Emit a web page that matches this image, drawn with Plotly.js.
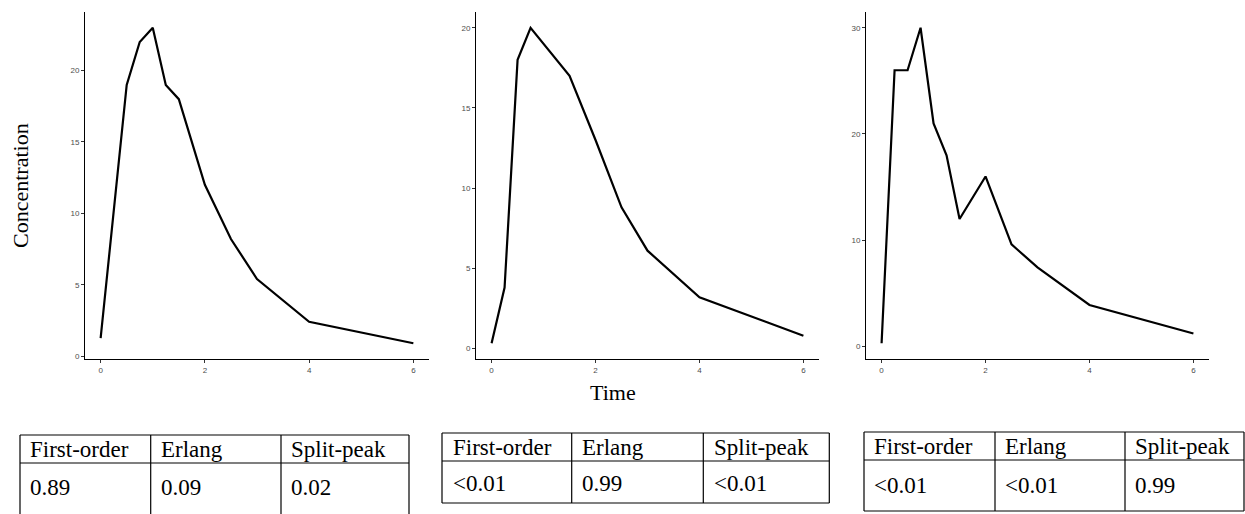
<!DOCTYPE html>
<html>
<head>
<meta charset="utf-8">
<script src="https://cdn.plot.ly/plotly-3.0.1.min.js"></script>
<style>html,body{margin:0;padding:0;background:#fff;}#chart{width:1245px;height:514px;}</style>
</head>
<body>
<div id="chart"></div>
<script>
// ---- data ----
var time1 = [0, 0.5, 0.75, 1, 1.25, 1.5, 2, 2.5, 3, 4, 6];
var conc1 = [1.25, 19, 22, 23, 19, 18, 12, 8.2, 5.4, 2.4, 0.9];
var time2 = [0, 0.25, 0.5, 0.75, 1.5, 2, 2.5, 3, 4, 6];
var conc2 = [0.33, 3.8, 18, 20, 17, 13, 8.8, 6.1, 3.2, 0.8];
var time3 = [0, 0.25, 0.5, 0.75, 1, 1.25, 1.5, 2, 2.5, 3, 4, 6];
var conc3 = [0.3, 26, 26, 30, 21, 18, 12, 16, 9.6, 7.45, 3.9, 1.22];
var yDtick = [5, 5, 10];
var tableHeaders = ["First-order", "Erlang", "Split-peak"];
var tableValues1 = ["0.89", "0.09", "0.02"];
var tableValues2 = ["<0.01", "0.99", "<0.01"];
var tableValues3 = ["<0.01", "<0.01", "0.99"];
var xTitle = "Time";
var yTitle = "Concentration";

// ---- layout helpers ----
var W = 1245, H = 514;
function px(x) { return x / W; }
function py(y) { return 1 - y / H; }

var series = [[time1, conc1], [time2, conc2], [time3, conc3]];
var xDomains = [[85, 429], [476, 819], [866, 1209]];
var plotTop = 12, plotBottom = 359;

var traces = [];
var layout = {
  width: W, height: H,
  margin: {l: 0, r: 0, t: 0, b: 0},
  paper_bgcolor: "#fff", plot_bgcolor: "#fff",
  showlegend: false,
  shapes: [], annotations: []
};

series.forEach(function (s, i) {
  var n = i === 0 ? "" : String(i + 1);
  traces.push({
    x: s[0], y: s[1], type: "scatter", mode: "lines",
    xaxis: "x" + n, yaxis: "y" + n,
    line: {color: "#000", width: 2.2},
    hoverinfo: "skip"
  });
  var ymin = Math.min.apply(null, s[1]), ymax = Math.max.apply(null, s[1]);
  var span = ymax - ymin;
  var common = {
    showgrid: false, zeroline: false, showline: true,
    linecolor: "#000", linewidth: 1,
    ticks: "outside", ticklen: 3, tickwidth: 1, tickcolor: "#333",
    tickfont: {family: "Liberation Sans, Arial, sans-serif", size: 8, color: "#4d4d4d"},
    fixedrange: true
  };
  layout["xaxis" + n] = Object.assign({}, common, {
    domain: [px(xDomains[i][0]), px(xDomains[i][1])],
    range: [-0.3, 6.3], tickmode: "linear", tick0: 0, dtick: 2,
    anchor: "y" + n
  });
  layout["yaxis" + n] = Object.assign({}, common, {
    domain: [py(plotBottom), py(plotTop)],
    range: [ymin - 0.05 * span, ymax + 0.05 * span],
    tickmode: "linear", tick0: 0, dtick: yDtick[i],
    anchor: "x" + n
  });
});

// axis titles
layout.annotations.push({
  text: yTitle, xref: "paper", yref: "paper",
  x: px(20), y: py(186), xanchor: "center", yanchor: "middle",
  textangle: -90, showarrow: false,
  font: {family: "Liberation Serif, Times New Roman, serif", size: 22, color: "#000"}
});
layout.annotations.push({
  text: xTitle, xref: "paper", yref: "paper",
  x: px(613), y: py(392), xanchor: "center", yanchor: "middle",
  showarrow: false,
  font: {family: "Liberation Serif, Times New Roman, serif", size: 22, color: "#000"}
});

// tables
var tables = [
  {vals: tableValues1, left: 20, cols: [150.7, 281], right: 409, top: 435, mid: 463, bottom: 514, bottomLine: false, hy: 449, vy: 487, pad: 8},
  {vals: tableValues2, left: 442, cols: [571.7, 703.3], right: 829.3, top: 433, mid: 461, bottom: 503, bottomLine: true, hy: 447, vy: 483, pad: 8.5},
  {vals: tableValues3, left: 864, cols: [995, 1125], right: 1244, top: 432, mid: 460, bottom: 511, bottomLine: true, hy: 446, vy: 485, pad: 8}
];

function line(x0, y0, x1, y1) {
  layout.shapes.push({
    type: "line", xref: "paper", yref: "paper",
    x0: px(x0), y0: py(y0), x1: px(x1), y1: py(y1),
    line: {color: "#000", width: 1.2}
  });
}

tables.forEach(function (t) {
  line(t.left, t.top, t.right, t.top);
  line(t.left, t.mid, t.right, t.mid);
  if (t.bottomLine) line(t.left, t.bottom, t.right, t.bottom);
  var xs = [t.left].concat(t.cols).concat([t.right]);
  xs.forEach(function (x) { line(x, t.top, x, t.bottom); });
  var starts = [t.left].concat(t.cols);
  for (var c = 0; c < 3; c++) {
    layout.annotations.push({
      text: tableHeaders[c], xref: "paper", yref: "paper",
      x: px(starts[c] + t.pad), y: py(t.hy), xanchor: "left", yanchor: "middle",
      showarrow: false,
      font: {family: "Liberation Serif, Times New Roman, serif", size: 23, color: "#000"}
    });
    layout.annotations.push({
      text: t.vals[c].replace("<", "&lt;"), xref: "paper", yref: "paper",
      x: px(starts[c] + t.pad), y: py(t.vy), xanchor: "left", yanchor: "middle",
      showarrow: false,
      font: {family: "Liberation Serif, Times New Roman, serif", size: 23, color: "#000"}
    });
  }
});

Plotly.newPlot("chart", traces, layout, {staticPlot: true, displayModeBar: false});
</script>
</body>
</html>
